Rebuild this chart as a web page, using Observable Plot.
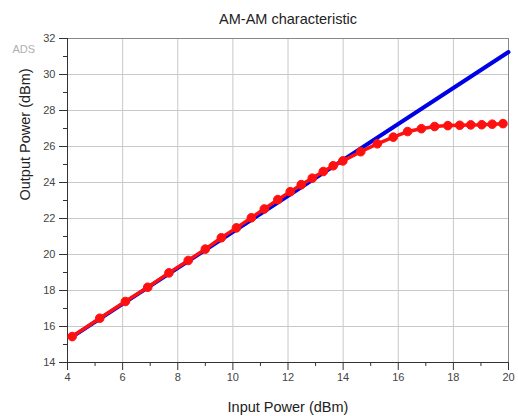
<!DOCTYPE html>
<html>
<head>
<meta charset="utf-8">
<script src="https://cdn.jsdelivr.net/npm/d3@7"></script>
<script src="https://cdn.jsdelivr.net/npm/@observablehq/plot@0.6"></script>
<style>
  html, body { margin: 0; padding: 0; background: white; }
</style>
</head>
<body>
<div id="chart"></div>
<script>
// Measured (red) AM-AM characteristic
const inputPower = [4.17, 5.17, 6.10, 6.91, 7.68, 8.38, 9.00, 9.58, 10.13, 10.67, 11.14, 11.63, 12.08, 12.48, 12.88, 13.28, 13.64, 13.99, 14.64, 15.24, 15.82, 16.34, 16.84, 17.32, 17.80, 18.23, 18.63, 19.03, 19.41, 19.80];
const outputPower = [15.44, 16.46, 17.39, 18.18, 18.98, 19.67, 20.30, 20.93, 21.48, 22.04, 22.53, 23.05, 23.49, 23.88, 24.24, 24.61, 24.93, 25.20, 25.71, 26.15, 26.52, 26.83, 26.99, 27.11, 27.16, 27.18, 27.20, 27.21, 27.24, 27.27];
// Linear (blue) reference
const linearIn = [4.17, 20];
const linearOut = [15.42, 31.25];
// Ticks
const xMajor = [4, 6, 8, 10, 12, 14, 16, 18, 20];
const xMinor = [5, 7, 9, 11, 13, 15, 17, 19];
const yMajor = [14, 16, 18, 20, 22, 24, 26, 28, 30, 32];
const yMinor = [15, 17, 19, 21, 23, 25, 27, 29, 31];

const measured = inputPower.map((x, i) => ({x, y: outputPower[i]}));
const linear = linearIn.map((x, i) => ({x, y: linearOut[i]}));

const font = "'Liberation Sans', Arial, Helvetica, sans-serif";

const chart = Plot.plot({
  width: 518,
  height: 416,
  marginTop: 38,
  marginBottom: 54,
  marginLeft: 67,
  marginRight: 10,
  style: {fontFamily: font, fontSize: "11px", color: "#444", background: "white", overflow: "visible"},
  x: {domain: [4, 20]},
  y: {domain: [14, 32]},
  marks: [
    Plot.gridX(xMajor, {stroke: "#c8c8c8", strokeOpacity: 1}),
    Plot.gridY(yMajor, {stroke: "#c8c8c8", strokeOpacity: 1}),
    Plot.frame({stroke: "#888"}),
    Plot.ruleX([4], {stroke: "#333"}),
    Plot.ruleY([14], {stroke: "#333"}),
    Plot.axisX(xMajor, {tickSize: 8, tickPadding: 3, label: null, fontSize: 11, stroke: "#333"}),
    Plot.axisX(xMinor, {tickSize: 4, tickFormat: () => "", label: null, stroke: "#333"}),
    Plot.axisY(yMajor, {tickSize: 8, tickPadding: 4, label: null, fontSize: 11, stroke: "#333"}),
    Plot.axisY(yMinor, {tickSize: 4, tickFormat: () => "", label: null, stroke: "#333"}),
    Plot.line(linear, {x: "x", y: "y", stroke: "#0000e6", strokeWidth: 4}),
    Plot.line(measured, {x: "x", y: "y", stroke: "#ff1010", strokeWidth: 3.5}),
    Plot.dot(measured, {x: "x", y: "y", r: 4.3, fill: "#ff1010", stroke: "#ff1010", strokeWidth: 1}),
    Plot.text(["AM-AM characteristic"], {frameAnchor: "top", dy: -15, lineAnchor: "bottom", fontSize: 14.5, fill: "#222"}),
    Plot.text(["Input Power (dBm)"], {frameAnchor: "bottom", dy: 49, lineAnchor: "bottom", fontSize: 14.5, fill: "#222"}),
    Plot.text(["Output Power (dBm)"], {frameAnchor: "left", dx: -37.5, rotate: -90, lineAnchor: "bottom", fontSize: 14.5, fill: "#222"}),
    Plot.text(["ADS"], {frameAnchor: "top-left", dx: -55, dy: 14, textAnchor: "start", lineAnchor: "bottom", fontSize: 11, fill: "#b0b0b0"})
  ]
});

document.getElementById("chart").appendChild(chart);
</script>
</body>
</html>
